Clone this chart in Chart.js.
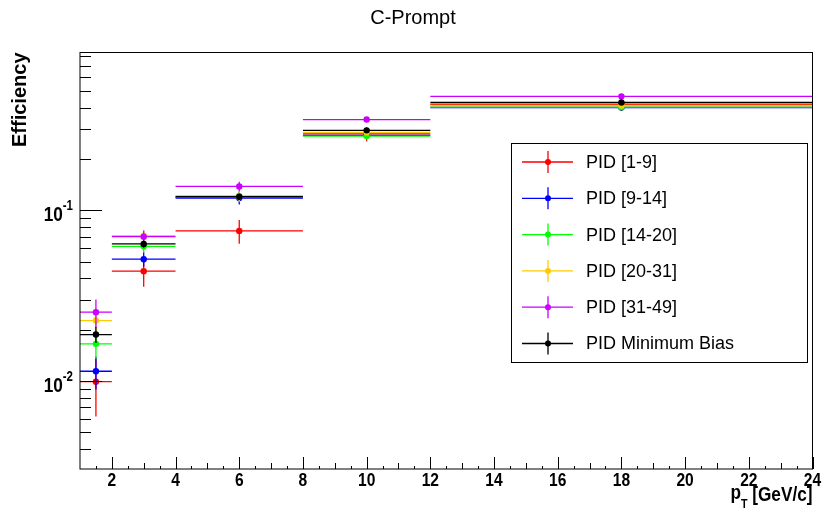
<!DOCTYPE html>
<html>
<head>
<meta charset="utf-8">
<script src="https://cdn.jsdelivr.net/npm/chart.js@4.4.0/dist/chart.umd.min.js"></script>
<style>
  html, body { margin: 0; padding: 0; background: #fff; }
  #wrap { width: 826px; height: 519px; }
</style>
</head>
<body>
<div id="wrap"><canvas id="grafica" width="826" height="519"></canvas></div>
<script>
// bins in pT
const binLow = [1, 2, 4, 8, 12];
const binHigh = [2, 4, 8, 12, 24];
const binCenter = [1.5, 3, 6, 10, 18];

const seriesNames = ["PID [1-9]", "PID [9-14]", "PID [14-20]", "PID [20-31]", "PID [31-49]", "PID Minimum Bias"];
const seriesColors = ["#ff0000", "#0000ff", "#00ff00", "#ffcc00", "#cc00ff", "#000000"];

// efficiency values per series
const effPid1_9   = [0.0099, 0.0440, 0.0757, 0.280, 0.417];
const effPid9_14  = [0.0114, 0.0517, 0.118, 0.275, 0.400];
const effPid14_20 = [0.0165, 0.0615, 0.121, 0.272, 0.402];
const effPid20_31 = [0.0226, 0.0710, 0.120, 0.286, 0.411];
const effPid31_49 = [0.0253, 0.0700, 0.138, 0.340, 0.465];
const effMinBias  = [0.0187, 0.0635, 0.120, 0.294, 0.428];

// statistical errors
const errPid1_9   = [0.0037, 0.0083, 0.012, 0.026, 0.035];
const errPid9_14  = [0.0025, 0.005, 0.010, 0.012, 0.014];
const errPid14_20 = [0.003, 0.005, 0.008, 0.012, 0.015];
const errPid20_31 = [0.003, 0.005, 0.008, 0.010, 0.012];
const errPid31_49 = [0.0047, 0.006, 0.009, 0.010, 0.010];
const errMinBias  = [0.002, 0.003, 0.005, 0.008, 0.010];

const allEff = [effPid1_9, effPid9_14, effPid14_20, effPid20_31, effPid31_49, effMinBias];
const allErr = [errPid1_9, errPid9_14, errPid14_20, errPid20_31, errPid31_49, errMinBias];

const xTicks = [2, 4, 6, 8, 10, 12, 14, 16, 18, 20, 22, 24];
const yTickDecades = [-2, -1];

const FONT = "'Liberation Sans', Arial, sans-serif";
const NARROW = 0.82; // ROOT's bold labels look condensed

function hacerPuntos(eff, err) {
  return eff.map((v, i) => ({
    x: binCenter[i], y: v,
    xl: binLow[i], xh: binHigh[i],
    yl: v - err[i], yh: v + err[i]
  }));
}

// text squeezed horizontally, anchored like textAlign would
function textoAngosto(ctx, txt, x, y, align) {
  const w = ctx.measureText(txt).width * NARROW;
  let x0 = x;
  if (align === "center") x0 = x - w / 2;
  else if (align === "right") x0 = x - w;
  ctx.save();
  ctx.translate(x0, y);
  ctx.scale(NARROW, 1);
  ctx.textAlign = "left";
  ctx.fillText(txt, 0, 0);
  ctx.restore();
  return w;
}

const datasets = seriesNames.map((name, k) => ({
  label: name,
  data: hacerPuntos(allEff[k], allErr[k]),
  backgroundColor: seriesColors[k],
  borderColor: seriesColors[k],
  pointRadius: 3.2,
  pointBorderWidth: 0,
  pointHoverRadius: 3.2,
  showLine: false,
  order: seriesNames.length - k
}));

// error bars, drawn right before each dataset's markers
const barrasError = {
  id: "barrasError",
  beforeDatasetDraw(chart, args) {
    const ctx = chart.ctx;
    const xs = chart.scales.x, ys = chart.scales.y;
    const ds = chart.data.datasets[args.index];
    ctx.save();
    ctx.strokeStyle = ds.borderColor;
    ctx.lineWidth = 1.3;
    ds.data.forEach(p => {
      const px = xs.getPixelForValue(p.x), py = ys.getPixelForValue(p.y);
      ctx.beginPath();
      ctx.moveTo(xs.getPixelForValue(p.xl), py);
      ctx.lineTo(xs.getPixelForValue(p.xh), py);
      ctx.moveTo(px, ys.getPixelForValue(Math.max(p.yl, ys.min)));
      ctx.lineTo(px, ys.getPixelForValue(Math.min(p.yh, ys.max)));
      ctx.stroke();
    });
    ctx.restore();
  }
};

// ROOT-like frame, ticks inside, labels, title and legend
const marcoRoot = {
  id: "marcoRoot",
  afterDraw(chart) {
    const ctx = chart.ctx;
    const a = chart.chartArea;
    const xs = chart.scales.x, ys = chart.scales.y;
    ctx.save();
    ctx.strokeStyle = "#000";
    ctx.fillStyle = "#000";
    ctx.lineWidth = 1;
    ctx.strokeRect(a.left, a.top, a.right - a.left, a.bottom - a.top);

    // x ticks
    ctx.beginPath();
    for (let v = 1.5; v <= 24; v += 0.5) {
      const px = Math.round(xs.getPixelForValue(v)) + 0.5;
      let len = 3;
      if (Number.isInteger(v)) len = (v % 2 === 0) ? 12 : 6;
      ctx.moveTo(px, a.bottom);
      ctx.lineTo(px, a.bottom - len);
    }
    // y ticks (log)
    for (let d = -3; d <= 0; d++) {
      for (let m = 1; m <= 9; m++) {
        const v = m * Math.pow(10, d);
        if (v < ys.min || v > ys.max) continue;
        const py = Math.round(ys.getPixelForValue(v)) + 0.5;
        const len = m === 1 ? 22 : 11;
        ctx.moveTo(a.left, py);
        ctx.lineTo(a.left + len, py);
      }
    }
    ctx.stroke();

    // x tick labels
    ctx.font = "bold 19px " + FONT;
    ctx.textBaseline = "middle";
    xTicks.forEach(v => {
      textoAngosto(ctx, String(v), xs.getPixelForValue(v), a.bottom + 12, "center");
    });

    // y tick labels 10^n
    yTickDecades.forEach(d => {
      const py = ys.getPixelForValue(Math.pow(10, d));
      ctx.textBaseline = "middle";
      ctx.font = "bold 14px " + FONT;
      const wSup = textoAngosto(ctx, String(d), 73, py - 4, "right");
      ctx.font = "bold 21px " + FONT;
      textoAngosto(ctx, "10", 73 - wSup, py + 5, "right");
    });

    // axis titles
    ctx.textBaseline = "alphabetic";
    ctx.font = "bold 21px " + FONT;
    const wTail = textoAngosto(ctx, " [GeV/c]", a.right, 501, "right");
    ctx.font = "bold 13px " + FONT;
    const wT = textoAngosto(ctx, "T", a.right - wTail, 508, "right");
    ctx.font = "bold 21px " + FONT;
    textoAngosto(ctx, "p", a.right - wTail - wT, 499, "right");

    ctx.save();
    ctx.translate(26, a.top);
    ctx.rotate(-Math.PI / 2);
    ctx.textAlign = "right";
    ctx.textBaseline = "alphabetic";
    ctx.font = "bold 20px " + FONT;
    ctx.fillText("Efficiency", 0, 0);
    ctx.restore();

    // title
    ctx.font = "20px " + FONT;
    ctx.textAlign = "center";
    ctx.textBaseline = "middle";
    ctx.fillText("C-Prompt", 413, 18);

    // legend
    const lx = 511, ly = 143, lw = 296, lh = 219;
    ctx.fillStyle = "#fff";
    ctx.fillRect(lx, ly, lw, lh);
    ctx.strokeStyle = "#000";
    ctx.strokeRect(lx + 0.5, ly + 0.5, lw, lh);
    chart.data.datasets.forEach((ds, k) => {
      const yy = ly + 19 + k * 36.3;
      ctx.strokeStyle = ds.borderColor;
      ctx.lineWidth = 1.3;
      ctx.beginPath();
      ctx.moveTo(522, yy); ctx.lineTo(573, yy);
      ctx.moveTo(548, yy - 11); ctx.lineTo(548, yy + 11);
      ctx.stroke();
      ctx.fillStyle = ds.backgroundColor;
      ctx.beginPath();
      ctx.arc(548, yy, 3, 0, Math.PI * 2);
      ctx.fill();
      ctx.fillStyle = "#000";
      ctx.font = "18px " + FONT;
      ctx.textAlign = "left";
      ctx.textBaseline = "middle";
      ctx.fillText(ds.label, 586, yy + 1);
    });
    ctx.restore();
  }
};

new Chart("grafica", {
  type: "scatter",
  data: { datasets: datasets },
  options: {
    responsive: false,
    animation: false,
    events: [],
    layout: { padding: { left: 80, right: 13.5, top: 52.5, bottom: 50 } },
    scales: {
      x: { type: "linear", min: 1, max: 24, display: false },
      y: { type: "logarithmic", min: 0.00305, max: 0.84, display: false }
    },
    plugins: {
      legend: { display: false },
      title: { display: false },
      tooltip: { enabled: false }
    }
  },
  plugins: [barrasError, marcoRoot]
});
</script>
</body>
</html>
